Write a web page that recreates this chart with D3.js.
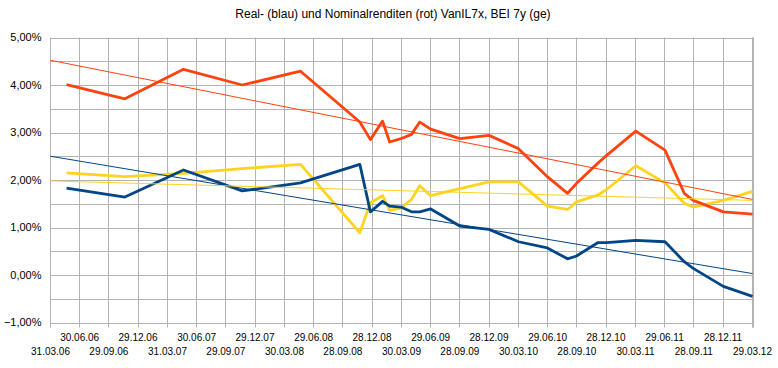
<!DOCTYPE html>
<html><head><meta charset="utf-8">
<script src="https://cdn.jsdelivr.net/npm/d3@7/dist/d3.min.js"></script>
<style>
body{margin:0;background:#fff}
svg{display:block}
text{font-family:"Liberation Sans",Arial,sans-serif;fill:#000}
</style>
</head><body>
<svg id="chart" width="778" height="368"></svg>
<script>
const title = "Real- (blau) und Nominalrenditen (rot) VanIL7x, BEI 7y (ge)";

const dates = ["20.05.06","18.11.06","20.05.07","19.11.07","19.05.08","20.11.08","23.12.08","30.01.09","21.02.09","28.03.09","30.04.09","26.05.09","29.06.09","28.09.09","28.12.09","30.03.10","28.06.10","30.08.10","27.09.10","02.12.10","30.12.10","31.03.11","30.06.11","29.08.11","26.09.11","29.12.11","29.03.12"];
const nominal = [4.01,3.71,4.33,4.00,4.29,3.22,2.85,3.24,2.80,2.87,2.96,3.22,3.07,2.87,2.94,2.66,2.07,1.72,1.93,2.35,2.52,3.03,2.63,1.72,1.57,1.33,1.28];
const real    = [1.83,1.64,2.21,1.77,1.94,2.33,1.33,1.55,1.45,1.43,1.33,1.33,1.39,1.03,0.96,0.70,0.57,0.34,0.40,0.68,0.68,0.73,0.70,0.28,0.14,-0.24,-0.45];
const bei     = [2.15,2.07,2.14,2.24,2.33,0.89,1.52,1.67,1.36,1.41,1.59,1.88,1.67,1.82,1.96,1.96,1.45,1.38,1.54,1.68,1.80,2.30,1.94,1.51,1.43,1.57,1.76];

// trend lines (start / end value at the axis ends)
const trendNominal = [4.52, 1.59];
const trendReal    = [2.50, 0.03];
const trendBei     = [1.98, 1.57];

const xTickLabels = ["31.03.06","30.06.06","29.09.06","29.12.06","31.03.07","30.06.07","29.09.07","29.12.07","30.03.08","29.06.08","28.09.08","28.12.08","30.03.09","29.06.09","28.09.09","28.12.09","30.03.10","29.06.10","28.09.10","28.12.10","30.03.11","29.06.11","28.09.11","28.12.11","29.03.12"];
const yLabelTicks = [-1,0,1,2,3,4,5];
const yGridTicks = [-1,-0.5,0,0.5,1,1.5,2,2.5,3,3.5,4,4.5,5];

const parse = d3.timeParse("%d.%m.%y");
const locale = d3.formatLocale({decimal:",",thousands:".",grouping:[3],currency:["","€"]});
const fmtPct = v => locale.format(".2f")(v) + "%";

const svg = d3.select("#chart");
const L = 50.5, R = 752.5, T = 37.5, B = 322.5;
const tickDates = xTickLabels.map(parse);
const x = d3.scaleTime().domain([tickDates[0], tickDates[tickDates.length-1]]).range([L, R]);
const y = d3.scaleLinear().domain([-1, 5]).range([B, T]);

const grid = "#b3b3b3";

// title
svg.append("text").attr("x", 393).attr("y", 18).attr("text-anchor","middle")
  .style("font-size","12px").text(title);

// horizontal grid
svg.append("g").selectAll("line").data(yGridTicks).join("line")
  .attr("x1", L).attr("x2", R).attr("y1", d => Math.round(y(d))+0.5).attr("y2", d => Math.round(y(d))+0.5)
  .attr("stroke", grid).attr("stroke-width", 1);

// vertical grid + ticks
svg.append("g").selectAll("line").data(tickDates).join("line")
  .attr("x1", d => Math.round(x(d)-0.5)+0.5).attr("x2", d => Math.round(x(d)-0.5)+0.5)
  .attr("y1", T).attr("y2", B + 5)
  .attr("stroke", grid).attr("stroke-width", 1);

// right border
svg.append("line").attr("x1", R+0.5).attr("x2", R+0.5).attr("y1", T).attr("y2", B+5)
  .attr("stroke", grid).attr("stroke-width", 2);

// y labels
svg.append("g").selectAll("text").data(yLabelTicks).join("text")
  .attr("x", 41.5).attr("y", d => y(d)).attr("dy","0.35em").attr("text-anchor","end")
  .style("font-size","11px").text(fmtPct);

// x labels (staggered)
svg.append("g").selectAll("text").data(tickDates).join("text")
  .attr("x", d => x(d)).attr("y", (d,i) => i % 2 === 1 ? 340.5 : 355)
  .attr("text-anchor","middle").style("font-size","10px")
  .text((d,i) => xTickLabels[i]);

const pts = dates.map(parse);
const line = d3.line().x((d,i) => x(pts[i])).y(d => y(d));

const series = [
  {vals: bei, color: "#ffd320"},
  {vals: real, color: "#004586"},
  {vals: nominal, color: "#ff420e"}
];
series.forEach(s => {
  svg.append("path").datum(s.vals).attr("d", line)
    .attr("fill","none").attr("stroke", s.color).attr("stroke-width", 2.8)
    .attr("stroke-linejoin","round").attr("stroke-linecap","butt");
});

const trends = [
  {vals: trendReal, color: "#004586"},
  {vals: trendNominal, color: "#ff420e"},
  {vals: trendBei, color: "#ffd320"}
];
const tline = d3.line().x((d,i) => x(x.domain()[i])).y(d => y(d));
trends.forEach(t => {
  svg.append("path").datum(t.vals).attr("d", tline)
    .attr("fill","none").attr("stroke", t.color).attr("stroke-width", 1);
});
</script>
</body></html>
